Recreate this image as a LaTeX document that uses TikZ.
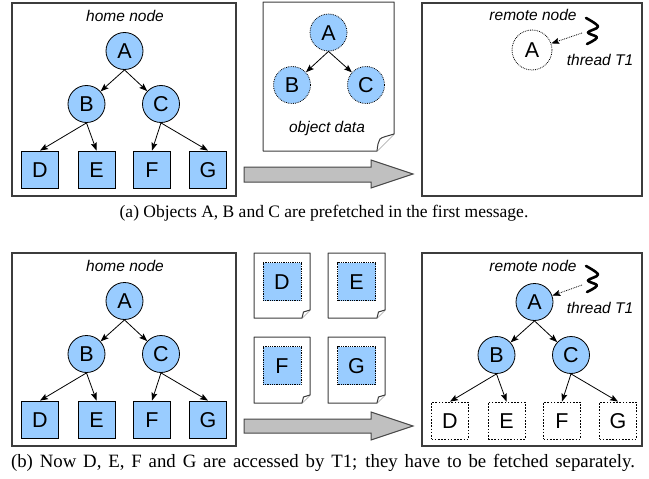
\documentclass[tikz,border=0pt]{standalone}
\usepackage{fontspec}
\setmainfont{Liberation Serif}
\setsansfont{Liberation Sans}
\usetikzlibrary{arrows.meta}
\definecolor{objblue}{RGB}{153,204,255}
\definecolor{framegray}{RGB}{60,60,60}
\definecolor{shaftgray}{RGB}{192,192,192}
\definecolor{shaftedge}{RGB}{70,70,70}
\begin{document}
\begin{tikzpicture}[x=1pt,y=-1pt,
  region/.style={draw=framegray,line width=1.2pt},
  paper/.style={draw=framegray,line width=1pt,fill=white,line join=round},
  lbl/.style={font=\sffamily\itshape\fontsize{15.5}{17}\selectfont,inner sep=0pt},
  letter/.style={font=\sffamily\fontsize{21.5}{23}\selectfont,inner sep=0pt,text height=15pt,text depth=0pt},
  objc/.style={letter,circle,minimum size=37pt,draw=black,line width=0.8pt,fill=objblue},
  objs/.style={letter,rectangle,minimum size=37pt,draw=black,line width=0.8pt,fill=objblue},
  ghostc/.style={letter,circle,minimum size=40pt,draw=black,line width=0.8pt,densely dotted},
  copyc/.style={objc,densely dotted},
  copys/.style={objs,densely dotted,minimum size=38pt},
  missing/.style={letter,rectangle,minimum size=37pt,draw=black,line width=0.8pt,dash pattern=on 1.6pt off 1.6pt},
  edge/.style={-{Stealth[length=8pt,width=6pt,inset=1.5pt]},line width=0.8pt,shorten <=-0.5pt},
  thr/.style={-{Stealth[length=8pt,width=6pt,inset=1.5pt]},line width=0.8pt,densely dotted},
  squiggle/.style={line width=2.6pt,line cap=round,line join=round},
  bigarrow/.style={draw=shaftedge,fill=shaftgray,line width=1pt,line join=miter},
  caption/.style={font=\fontsize{17.5}{20}\selectfont,inner sep=0pt}
]
\useasboundingbox (0,0) rectangle (649,479);

% ---------- (a) first message ----------
% home node
\draw[region] (12,3) rectangle (236,196);
\node[lbl] (ahome) at (125,16) {home node};
\node[objc] (aA) at (124.5,51) {A};
\node[objc] (aB) at (86.5,104) {B};
\node[objc] (aC) at (161,104) {C};
\node[objs] (aD) at (40,169.5) {D};
\node[objs] (aE) at (96.5,169.5) {E};
\node[objs] (aF) at (152,169.5) {F};
\node[objs] (aG) at (208,169.5) {G};
\draw[edge] (aA.south) -- (aB);
\draw[edge] (aA.south) -- (aC);
\draw[edge] (aB.south) -- (aD.north);
\draw[edge] (aB.south) -- (aE.north);
\draw[edge] (aC.south) -- (aF.north);
\draw[edge] (aC.south) -- (aG.north);

% message holding A, B, C
\draw[paper] (263,2) -- (394,2) -- (394,134) -- (377,151) -- (263,151) -- cycle;
\draw[paper] (394,134) .. controls (388,136) and (382,137) .. (380,139) .. controls (378,143) .. (377,151);
\node[copyc] (mA) at (328.5,32.5) {A};
\node[copyc] (mB) at (292,85) {B};
\node[copyc] (mC) at (366,85) {C};
\draw[edge] (mA.south) -- (mB);
\draw[edge] (mA.south) -- (mC);
\node[lbl] (mlbl) at (327,128) {object data};

% transfer arrow
\draw[bigarrow] (244,167) -- (371,167) -- (371,160) -- (413,174) -- (371,188) -- (371,182) -- (244,182) -- cycle;

% remote node
\draw[region] (422,3) rectangle (642,196);
\node[lbl] (aremote) at (533,15) {remote node};
\node[ghostc] (rA) at (532,50) {A};
\draw[squiggle] plot[smooth,tension=0.6] coordinates {(586,18) (598,26.5) (588,32.5) (597,37.5) (587,44)};
\coordinate (at1) at (582,33);
\draw[thr] (at1) -- (rA);
\node[lbl] (athread) at (600,60) {thread T1};

\node[caption] (capa) at (324,213) {(a) Objects A, B and C are prefetched in the first message.};

% ---------- (b) separate fetches ----------
% home node
\draw[region] (12,253) rectangle (236,446);
\node[lbl] (bhome) at (125,266) {home node};
\node[objc] (bA) at (124.5,301) {A};
\node[objc] (bB) at (86.5,354) {B};
\node[objc] (bC) at (161,354) {C};
\node[objs] (bD) at (40,419.5) {D};
\node[objs] (bE) at (96.5,419.5) {E};
\node[objs] (bF) at (152,419.5) {F};
\node[objs] (bG) at (208,419.5) {G};
\draw[edge] (bA.south) -- (bB);
\draw[edge] (bA.south) -- (bC);
\draw[edge] (bB.south) -- (bD.north);
\draw[edge] (bB.south) -- (bE.north);
\draw[edge] (bC.south) -- (bF.north);
\draw[edge] (bC.south) -- (bG.north);

% four single-object messages
\draw[paper] (254,253) -- (310,253) -- (310,310) -- (302,318) -- (254,318) -- cycle;
\draw[paper] (310,310) -- (303.5,312) -- (302,318);
\draw[paper] (328,253) -- (385,253) -- (385,310) -- (377,318) -- (328,318) -- cycle;
\draw[paper] (385,310) -- (378.5,312) -- (377,318);
\draw[paper] (254,337) -- (310,337) -- (310,395) -- (302,403) -- (254,403) -- cycle;
\draw[paper] (310,395) -- (303.5,397) -- (302,403);
\draw[paper] (328,337) -- (385,337) -- (385,395) -- (377,403) -- (328,403) -- cycle;
\draw[paper] (385,395) -- (378.5,397) -- (377,403);
\node[copys] (mD) at (282,281.5) {D};
\node[copys] (mE) at (356.5,281.5) {E};
\node[copys] (mF) at (282,365.5) {F};
\node[copys] (mG) at (356.5,365.5) {G};

% transfer arrow
\draw[bigarrow] (244,419) -- (371,419) -- (371,412) -- (413,426) -- (371,440) -- (371,433) -- (244,433) -- cycle;

% remote node
\draw[region] (422,253) rectangle (642,446);
\node[lbl] (bremote) at (533,266) {remote node};
\node[objc] (sA) at (534.5,302) {A};
\node[objc] (sB) at (496.5,355) {B};
\node[objc] (sC) at (571,355) {C};
\node[missing] (sD) at (450,420.5) {D};
\node[missing] (sE) at (506.5,420.5) {E};
\node[missing] (sF) at (562,420.5) {F};
\node[missing] (sG) at (618,420.5) {G};
\draw[edge] (sA.south) -- (sB);
\draw[edge] (sA.south) -- (sC);
\draw[edge] (sB.south) -- (sD.north);
\draw[edge] (sB.south) -- (sE.north);
\draw[edge] (sC.south) -- (sF.north);
\draw[edge] (sC.south) -- (sG.north);
\draw[squiggle] plot[smooth,tension=0.6] coordinates {(586,266) (598,274.5) (588,280.5) (597,285.5) (587,292)};
\coordinate (bt1) at (582,285);
\draw[thr] (bt1) -- (sA);
\node[lbl] (bthread) at (600,308) {thread T1};

\node[caption,font=\fontsize{18.8}{20}\selectfont] (capb) at (323,463) {\makebox[624pt][s]{(b) Now D, E, F and G are accessed by T1; they have to be fetched separately.}};
\end{tikzpicture}
\end{document}
